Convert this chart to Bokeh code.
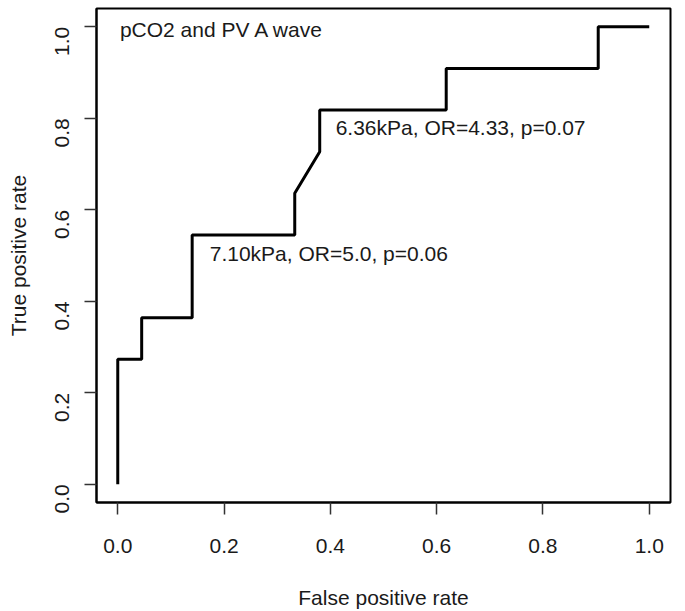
import math
from bokeh.plotting import figure
from bokeh.models import Range1d, FixedTicker, PrintfTickFormatter
from bokeh.core.properties import value
from bokeh.embed import file_html
from bokeh.resources import INLINE

# ROC curve
fpr = [0.0, 0.0, 0.045, 0.045, 0.14, 0.14, 0.333, 0.333, 0.38, 0.38, 0.618, 0.618, 0.904, 0.904, 1.0]
tpr = [0.0, 0.273, 0.273, 0.364, 0.364, 0.545, 0.545, 0.636, 0.727, 0.818, 0.818, 0.909, 0.909, 1.0, 1.0]

# annotations
note_text = ["pCO2 and PV A wave", "6.36kPa, OR=4.33, p=0.07", "7.10kPa, OR=5.0, p=0.06"]
note_x = [0.004, 0.41, 0.173]
note_y = [0.995, 0.779, 0.505]

ticks = [0.0, 0.2, 0.4, 0.6, 0.8, 1.0]
x_label = "False positive rate"
y_label = "True positive rate"

FONT = "Liberation Sans"
FS = "21px"
TXT = "#1a1a1a"

p = figure(width=685, height=611, output_backend="svg", toolbar_location=None,
           x_range=Range1d(-0.04, 1.04), y_range=Range1d(-0.04, 1.04),
           min_border_left=96, min_border_right=15, min_border_top=8, min_border_bottom=108)
p.background_fill_color = "white"
p.border_fill_color = "white"
p.outline_line_color = "black"
p.outline_line_width = 2
p.outline_line_alpha = 1
p.xgrid.visible = False
p.ygrid.visible = False

for ax in (p.xaxis[0], p.yaxis[0]):
    ax.ticker = FixedTicker(ticks=ticks)
    ax.formatter = PrintfTickFormatter(format="%.1f")
    ax.minor_tick_line_color = None
    ax.major_tick_in = 0
    ax.major_tick_out = 12
    ax.major_tick_line_color = "#333333"
    ax.major_tick_line_width = 1.5
    ax.axis_line_color = "black"
    ax.axis_line_width = 2
    ax.major_label_text_font = FONT
    ax.major_label_text_font_size = FS
    ax.major_label_text_color = TXT
    ax.axis_label_text_font = FONT
    ax.axis_label_text_font_size = FS
    ax.axis_label_text_font_style = "normal"
    ax.axis_label_text_color = TXT

p.xaxis.axis_label = x_label
p.yaxis.axis_label = y_label
p.xaxis.major_label_standoff = 24
p.xaxis.axis_label_standoff = 30
p.yaxis.major_label_orientation = math.pi / 2
p.yaxis.major_label_standoff = 22
p.yaxis.axis_label_standoff = 16

p.line(fpr, tpr, line_color="black", line_width=3)

p.text(x=note_x, y=note_y, text=note_text, text_font=value(FONT), text_font_size=FS,
       text_color=TXT, text_align="left", text_baseline="middle")

open("out.html", "w").write(file_html(p, INLINE))
